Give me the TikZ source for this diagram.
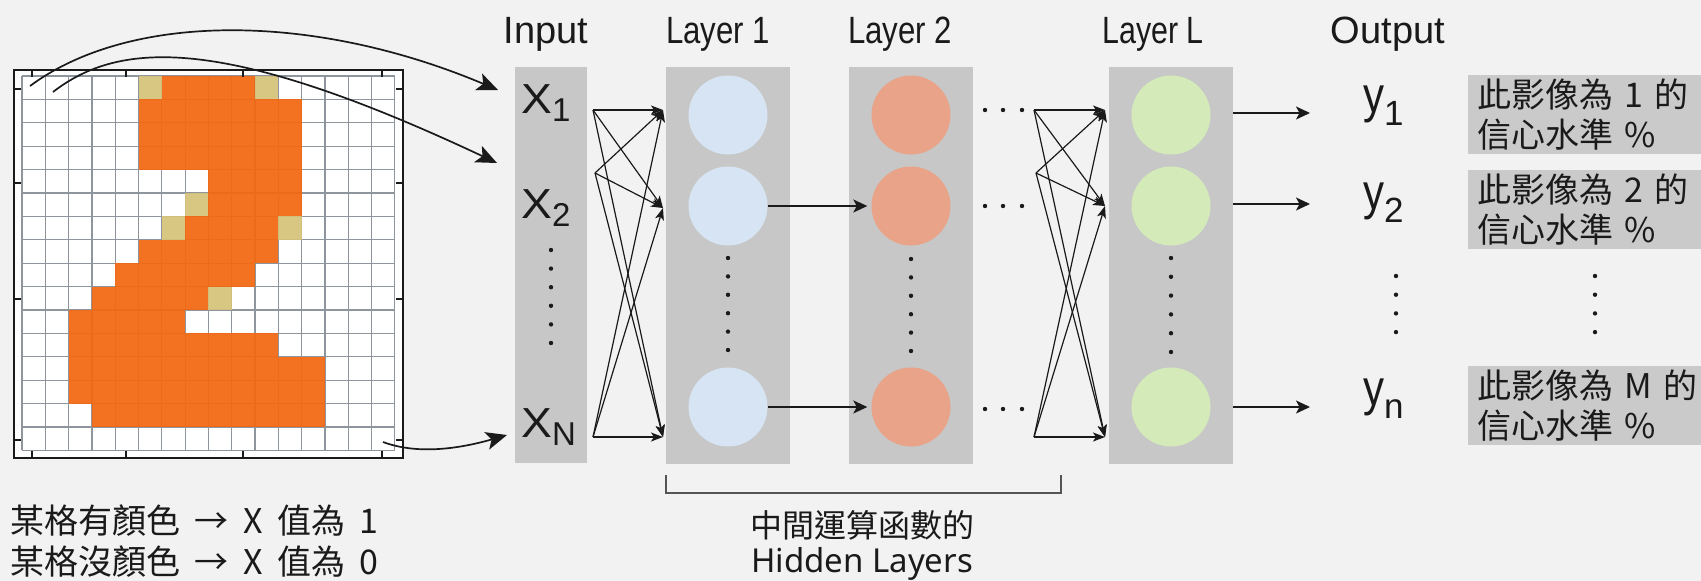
\documentclass[tikz,border=0pt]{standalone}
\usepackage{fontspec}
\usepackage{graphicx}
\usetikzlibrary{arrows.meta}
\newfontfamily\cjk[WordSpace=1.9]{Noto Sans CJK TC}
\newfontfamily\lat{Liberation Sans}
\newfontfamily\nsans{Noto Sans}
\newcommand\hdtext[2]{\scalebox{#1}[1]{#2}}
\definecolor{bgc}{HTML}{F2F2F2}
\definecolor{panelc}{HTML}{C7C7C7}
\definecolor{boxc}{HTML}{CACACA}
\definecolor{bluec}{HTML}{D6E4F4}
\definecolor{salmc}{HTML}{E8A388}
\definecolor{greenc}{HTML}{D4EBB9}
\definecolor{orngc}{HTML}{F36812}
\definecolor{tanc}{HTML}{D6C27A}
\definecolor{gridc}{HTML}{8E959D}
\definecolor{inkc}{HTML}{1A1A1A}
\definecolor{brackc}{HTML}{555555}
\begin{document}
\begin{tikzpicture}[x=1pt,y=-1pt,
  panel/.style={fill=panelc, draw=none, inner sep=0pt, rectangle},
  neuron/.style={circle, draw=none, minimum size=79pt, inner sep=0pt},
  hdr/.style={font=\lat\fontsize{38}{42}\selectfont, anchor=base, inner sep=0pt, text=inkc},
  lab/.style={font=\lat\fontsize{42}{46}\selectfont, anchor=base west, inner sep=0pt, text=inkc},
  lbox/.style={fill=boxc, anchor=north west, minimum width=240pt, minimum height=79pt, inner xsep=9pt, inner ysep=0pt, text width=222pt, align=left, font=\cjk\fontsize{34}{40}\selectfont, text=inkc},
  conn/.style={draw=inkc, line width=1.2pt, -{Stealth[length=12pt,width=9pt,inset=3pt]}},
  arr/.style={draw=inkc, line width=1.5pt, -{Stealth[length=14pt,width=13pt,inset=3.5pt]}},
  curv/.style={draw=inkc, line width=1.7pt, -{Stealth[length=21pt,width=18pt,inset=5pt]}},
  gridln/.style={draw=gridc, line width=1.2pt},
  tick/.style={draw=inkc, line width=2pt},
]
\useasboundingbox (0,0) rectangle (1701,581);
\fill[bgc] (0,0) rectangle (1701,581);

% ---------- pixel image ----------
\fill[white] (14,70) rectangle (403,458);
\foreach \i in {0,...,16} {
  \draw[gridln] ({22+23.3*\i},76) -- ({22+23.3*\i},450.4);
  \draw[gridln] (22,{76+23.4*\i}) -- (394.8,{76+23.4*\i});
}
\foreach \r/\a/\b in {0/6/9, 1/5/11, 2/5/11, 3/5/11, 4/8/11, 5/8/11, 6/7/10, 7/5/10, 8/4/9, 9/3/7, 10/2/6, 11/2/10, 12/2/12, 13/2/12, 14/3/12} {
  \foreach \c in {\a,...,\b} {
    \fill[orngc, fill opacity=0.93] ({22+23.3*\c},{76+23.4*\r}) rectangle ++(23.3,23.4);
  }
}
\foreach \r/\c in {0/5, 0/10, 5/7, 6/6, 6/11, 9/8} {
  \fill[tanc, fill opacity=0.93] ({22+23.3*\c},{76+23.4*\r}) rectangle ++(23.3,23.4);
}
\draw[line width=2.6pt, inkc] (14,70) rectangle (403,458);
\foreach \x in {32,126,243,382} {
  \draw[tick] (\x,70) -- (\x,77);
  \draw[tick] (\x,458) -- (\x,451);
}
\foreach \y in {89,183,299,440} {
  \draw[tick] (14,\y) -- (21,\y);
  \draw[tick] (403,\y) -- (396,\y);
}

% ---------- headers ----------
\node[hdr] (hin) at (546,43) {\hdtext{1.0}{Input}};
\node[hdr] (hl1) at (718,43) {\hdtext{0.82}{Layer 1}};
\node[hdr] (hl2) at (900,43) {\hdtext{0.82}{Layer 2}};
\node[hdr] (hll) at (1153,43) {\hdtext{0.8}{Layer L}};
\node[hdr] (hout) at (1388,43) {\hdtext{1.0}{Output}};

% ---------- panels ----------
\node[panel, minimum width=72pt, minimum height=396pt] (inp) at (551,265) {};
\node[panel, minimum width=124pt, minimum height=397pt] (L1) at (728,265.5) {};
\node[panel, minimum width=124pt, minimum height=397pt] (L2) at (911,265.5) {};
\node[panel, minimum width=124pt, minimum height=397pt] (LL) at (1171,265.5) {};

% neurons
\node[neuron, fill=bluec] (a1) at (728,115) {};
\node[neuron, fill=bluec] (a2) at (728,206) {};
\node[neuron, fill=bluec] (a3) at (728,407) {};
\node[neuron, fill=salmc] (b1) at (911,115) {};
\node[neuron, fill=salmc] (b2) at (911,206) {};
\node[neuron, fill=salmc] (b3) at (911,407) {};
\node[neuron, fill=greenc] (c1) at (1171,115) {};
\node[neuron, fill=greenc] (c2) at (1171,206) {};
\node[neuron, fill=greenc] (c3) at (1171,407) {};

% input labels
\node[lab] (x1) at (521,113) {\scalebox{1.1}[1]{X}\raisebox{-8pt}{\fontsize{33}{33}\selectfont 1}};
\node[lab] (x2) at (521,218) {\scalebox{1.1}[1]{X}\raisebox{-8pt}{\fontsize{33}{33}\selectfont 2}};
\node[lab] (xN) at (521,437) {\scalebox{1.1}[1]{X}\raisebox{-8pt}{\fontsize{33}{33}\selectfont N}};

% vertical dots
\foreach \k in {0,...,5} {
  \fill[inkc] (551,{250+18.6*\k}) circle (2.2pt);
  \fill[inkc] (728,{258+18.4*\k}) circle (2.2pt);
  \fill[inkc] (911,{259+18.4*\k}) circle (2.2pt);
  \fill[inkc] (1171,{258+18.8*\k}) circle (2.2pt);
}
\foreach \k in {0,...,3} {
  \fill[inkc] (1396,{276+18.7*\k}) circle (2.2pt);
  \fill[inkc] (1595,{276+18.7*\k}) circle (2.2pt);
}
% horizontal dots
\foreach \yy in {110,206,409} {
  \foreach \xx in {985,1003,1022} {
    \fill[inkc] (\xx,\yy) circle (2.2pt);
  }
}

% ---------- curved arrows from the image ----------
\coordinate (p1) at (30,86);
\coordinate (p2) at (53,92);
\coordinate (p3) at (383,442);
\coordinate (q1) at (498,90);
\coordinate (q2) at (497,163);
\coordinate (q3) at (507,435);
\draw[curv] (p1) .. controls (130,12) and (313,12) .. (q1);
\draw[curv] (p2) .. controls (120,40) and (225,35) .. (q2);
\draw[curv] (p3) .. controls (415,454) and (455,450) .. (q3);

% ---------- input -> layer 1 ----------
\coordinate (s1) at (593,110);
\coordinate (s2) at (595,173);
\coordinate (s3) at (593,437);
\coordinate (t1) at (663,110);
\coordinate (t2) at (663,208);
\coordinate (t3) at (663,437);
\foreach \s in {s1,s2,s3} {
  \foreach \t in {t1,t2,t3} {
    \draw[conn] (\s) -- (\t);
  }
}

% ---------- layer 1 -> layer 2 ----------
\draw[arr, shorten >=4pt] (a2.east) -- (b2.west);
\draw[arr, shorten >=4pt] (a3.east) -- (b3.west);

% ---------- ... -> layer L ----------
\coordinate (u1) at (1034,110);
\coordinate (u2) at (1036,173);
\coordinate (u3) at (1034,437);
\coordinate (v1) at (1105,110);
\coordinate (v2) at (1105,206);
\coordinate (v3) at (1105,437);
\foreach \s in {u1,u2,u3} {
  \foreach \t in {v1,v2,v3} {
    \draw[conn] (\s) -- (\t);
  }
}

% ---------- layer L -> output ----------
\coordinate (e1) at (1310,113);
\coordinate (e2) at (1310,204);
\coordinate (e3) at (1310,407);
\draw[arr] (LL.east |- e1) -- (e1);
\draw[arr] (LL.east |- e2) -- (e2);
\draw[arr] (LL.east |- e3) -- (e3);

% output labels
\node[lab] (y1) at (1363,112) {\scalebox{1.0}[1.2]{y}\raisebox{-13pt}{\fontsize{35}{35}\selectfont 1}};
\node[lab] (y2) at (1363,209) {\scalebox{1.0}[1.2]{y}\raisebox{-13pt}{\fontsize{35}{35}\selectfont 2}};
\node[lab] (yn) at (1363,405) {\scalebox{1.0}[1.2]{y}\raisebox{-13pt}{\fontsize{35}{35}\selectfont n}};

% output description boxes
\node[lbox] (o1) at (1468,75) {此影像為 1 的\\信心水準 \%};
\node[lbox] (o2) at (1468,170) {此影像為 2 的\\信心水準 \%};
\node[lbox] (o3) at (1468,366) {此影像為 M 的\\信心水準 \%};

% ---------- hidden layers bracket ----------
\draw[draw=brackc, line width=1.6pt] (666,475) -- (666,493) -- (1061,493) -- (1061,475);
\node[font=\cjk\fontsize{32}{35}\selectfont, anchor=base, inner sep=0pt, text=inkc] (hid1) at (862,537) {中間運算函數的};
\node[font=\nsans\fontsize{33}{35}\selectfont, anchor=base, inner sep=0pt, text=inkc] (hid2) at (862,572) {Hidden Layers};

% ---------- note ----------
\node[font=\cjk\fontsize{34}{41}\selectfont, align=left, anchor=west, inner sep=0pt, text=inkc] (note) at (10,541.5) {某格有顏色 → X 值為 1\\某格沒顏色 → X 值為 0};
\end{tikzpicture}
\end{document}
